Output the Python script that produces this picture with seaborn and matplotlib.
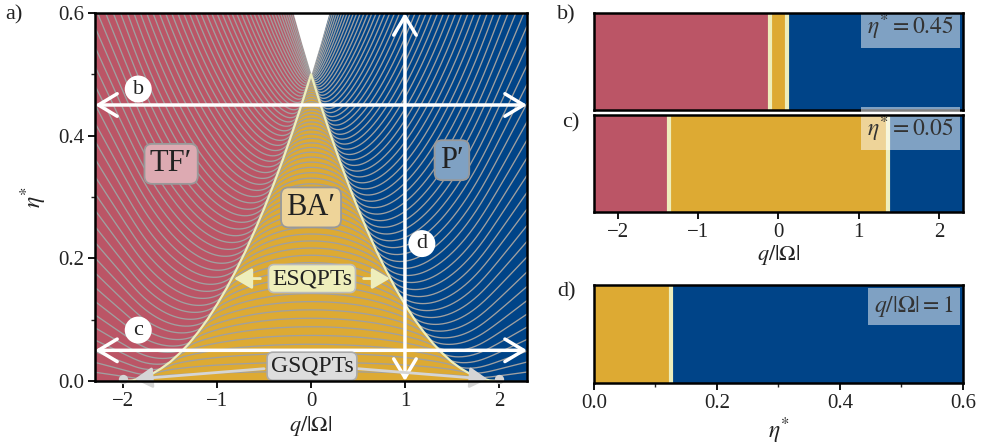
import numpy as np
import pandas as pd
import matplotlib
matplotlib.use("Agg")
import matplotlib.pyplot as plt
from matplotlib.ticker import MultipleLocator
import seaborn as sns

# ---------------- data ----------------
# ESQPT phase boundary (BA' edge), eta* vs |q|/|Omega| (symmetric in q)
esqpt_q = [0.0, 0.1, 0.2, 0.3, 0.4, 0.5, 0.6, 0.7, 0.8, 0.9, 1.0,
           1.1, 1.2, 1.3, 1.4, 1.5, 1.6, 1.7, 1.8, 1.9, 2.0]
esqpt_eta = [0.500, 0.451, 0.405, 0.361, 0.320, 0.281, 0.245, 0.211, 0.180, 0.151, 0.125,
             0.101, 0.080, 0.061, 0.045, 0.031, 0.020, 0.011, 0.005, 0.001, 0.000]
# upper edge of the spectrum above the apex (white wedge)
top_q = [0.0, 0.1, 0.2]
top_eta = [0.500, 0.551, 0.605]

# spectrum model: number of atoms, q range
n_atoms = 130
q_range = (-2.3, 2.3)

# cuts
cut_b_edges = [-2.3, -0.10, 0.10, 2.3]   # eta* = 0.45
cut_b_phases = ["TF", "BA", "P"]
cut_c_edges = [-2.3, -1.37, 1.37, 2.3]   # eta* = 0.05
cut_c_phases = ["TF", "BA", "P"]
cut_d_edges = [0.0, 0.125, 0.6]          # q/|Omega| = 1
cut_d_phases = ["BA", "P"]

# labels
region_labels = ["TF\u2032", "BA\u2032", "P\u2032"]
region_pos = [(-1.49, 0.354), (0.0, 0.283), (1.5, 0.36)]
cut_eta_b, cut_eta_c, cut_q_d = 0.45, 0.05, 1.0

# ---------------- style ----------------
sns.set_style("ticks")
plt.rcParams["font.family"] = ["Liberation Serif", "DejaVu Serif"]
plt.rcParams["mathtext.fontset"] = "stix"

RED, YEL, BLU = "#BB5566", "#DDAA33", "#004488"
PALE = "#EEEEBB"
LINEGRAY = "#A0A0A0"
TXT = "#222222"
colmap = {"TF": RED, "BA": YEL, "P": BLU}
boxcol = {"TF\u2032": "#DDAAB2", "BA\u2032": "#EED499", "P\u2032": "#7FA1C3"}

# ---------------- spectrum (finite-size spin-1 model) ----------------
qs = np.linspace(q_range[0], q_range[1], 461)
k = np.arange(n_atoms // 2 + 1)
n0 = n_atoms - 2 * k
off = -(k[:-1] + 1) * np.sqrt(n0[:-1] * (n0[:-1] - 1.0)) / n_atoms**2
levels = []
for q in qs:
    diag = q * 2 * k / n_atoms - 2 * n0 * k / n_atoms**2
    H = np.diag(diag) + np.diag(off, 1) + np.diag(off, -1)
    e = np.linalg.eigvalsh(H)
    levels.append(e - e[0])
levels = np.array(levels)  # (nq, nlev)
keep = levels.min(axis=0) < 0.62
lv = levels[:, keep]
df = pd.DataFrame({
    "q": np.repeat(qs, lv.shape[1]),
    "eta": lv.ravel(),
    "level": np.tile(np.arange(lv.shape[1]), len(qs)),
})

# ---------------- figure ----------------
fig = plt.figure(figsize=(9.89, 4.48), dpi=100)
axa = fig.add_axes([0.0961, 0.1496, 0.4368, 0.8214])
axb = fig.add_axes([0.6006, 0.7545, 0.3731, 0.2165])
axc = fig.add_axes([0.6006, 0.5268, 0.3731, 0.2165])
axd = fig.add_axes([0.6006, 0.1451, 0.3731, 0.2188])

# --- panel a ---
qf = [-v for v in esqpt_q[::-1]] + esqpt_q[1:]
ef = esqpt_eta[::-1] + esqpt_eta[1:]
tq = [-v for v in top_q[::-1]] + top_q[1:]
te = top_eta[::-1] + top_eta[1:]

axa.axvspan(q_range[0], 0, color=RED, lw=0, zorder=0)
axa.axvspan(0, q_range[1], color=BLU, lw=0, zorder=0)
axa.fill_between(qf, 0, ef, color=YEL, lw=0, zorder=1)

sns.lineplot(data=df, x="q", y="eta", units="level", estimator=None,
             color=LINEGRAY, lw=0.95, ax=axa, zorder=2, legend=False)

axa.fill_between(tq, te, 0.65, color="white", lw=0, zorder=2.5)
axa.plot(qf, ef, color=PALE, lw=1.6, zorder=3)

axa.set_xlim(*q_range)
axa.set_ylim(0, 0.6)
axa.set_xticks([-2, -1, 0, 1, 2])
axa.set_yticks([0.0, 0.2, 0.4, 0.6])
axa.yaxis.set_minor_locator(MultipleLocator(0.1))
axa.set_xlabel(r"$q/|\Omega|$", fontsize=16, labelpad=2, color=TXT)
axa.set_ylabel(r"$\eta^{*}$", fontsize=17, labelpad=6, color=TXT)

arrow_kw = dict(arrowstyle="<->,head_length=0.75,head_width=0.45", color="white",
                lw=2.5, mutation_scale=18, shrinkA=0, shrinkB=0)
axa.annotate("", xy=(q_range[1], cut_eta_b), xytext=(q_range[0], cut_eta_b),
             arrowprops=arrow_kw, zorder=6, annotation_clip=False)
axa.annotate("", xy=(q_range[1], cut_eta_c), xytext=(q_range[0], cut_eta_c),
             arrowprops=arrow_kw, zorder=6, annotation_clip=False)
axa.annotate("", xy=(cut_q_d, 0.6), xytext=(cut_q_d, 0.0),
             arrowprops=arrow_kw, zorder=6, annotation_clip=False)

circ = dict(boxstyle="circle,pad=0.18", fc="white", ec="none")
for lab, (x, y) in zip(["b", "c", "d"], [(-1.84, 0.476), (-1.84, 0.083), (1.18, 0.224)]):
    axa.text(x, y, lab, ha="center", va="center", fontsize=16, color=TXT,
             bbox=circ, zorder=7)

for lab, (x, y) in zip(region_labels, region_pos):
    axa.text(x, y, lab, ha="center", va="center", fontsize=22, color=TXT, zorder=7,
             bbox=dict(boxstyle="round,pad=0.18,rounding_size=0.25", fc=boxcol[lab],
                       ec="#999999", lw=1.3))

# ESQPT label + arrows
axa.text(0.01, 0.167, "ESQPTs", ha="center", va="center", fontsize=17, color=TXT, zorder=7,
         bbox=dict(boxstyle="round,pad=0.15,rounding_size=0.25", fc=PALE, ec="#BBBBBB", lw=1.2))
ek = dict(arrowstyle="-|>,head_length=0.6,head_width=0.35", color=PALE, lw=2,
          mutation_scale=18, shrinkA=0, shrinkB=0)
axa.annotate("", xy=(-0.82, 0.167), xytext=(-0.54, 0.167), arrowprops=ek, zorder=6)
axa.annotate("", xy=(0.84, 0.167), xytext=(0.56, 0.167), arrowprops=ek, zorder=6)

# GSQPT label + arrows + dots
gk = dict(arrowstyle="-|>,head_length=0.6,head_width=0.35", color="#D5D5D5", lw=2,
          mutation_scale=18, shrinkA=0, shrinkB=0)
axa.annotate("", xy=(-1.88, 0.003), xytext=(-0.5, 0.02), arrowprops=gk, zorder=6)
axa.annotate("", xy=(1.88, 0.003), xytext=(0.5, 0.02), arrowprops=gk, zorder=6)
axa.scatter([-2, 2], [0.004, 0.004], s=45, color="#D5D5D5", zorder=6, clip_on=False, lw=0)
axa.text(0.01, 0.024, "GSQPTs", ha="center", va="center", fontsize=17, color=TXT, zorder=7,
         bbox=dict(boxstyle="round,pad=0.15,rounding_size=0.25", fc="#DDDDDD", ec="#AAAAAA", lw=1.2))

# --- panels b, c, d ---
def cut_panel(ax, edges, phases, xlim):
    for i, ph in enumerate(phases):
        ax.axvspan(edges[i], edges[i + 1], color=colmap[ph], lw=0, zorder=0)
    for e in edges[1:-1]:
        ax.axvline(e, color=PALE, lw=3, zorder=1)
    ax.set_xlim(*xlim)
    ax.set_ylim(0, 1)
    ax.set_yticks([])

cut_panel(axb, cut_b_edges, cut_b_phases, q_range)
cut_panel(axc, cut_c_edges, cut_c_phases, q_range)
cut_panel(axd, cut_d_edges, cut_d_phases, (0, 0.6))
axb.set_xticks([])
axc.set_xticks([-2, -1, 0, 1, 2])
axc.set_xlabel(r"$q/|\Omega|$", fontsize=16, labelpad=1, color=TXT)
axd.set_xticks([0.0, 0.2, 0.4, 0.6])
axd.xaxis.set_minor_locator(MultipleLocator(0.1))
axd.set_xlabel(r"$\eta^{*}$", fontsize=17, labelpad=2, color=TXT)

ibox = dict(boxstyle="square,pad=0.25", fc="white", ec="none", alpha=0.5)
axb.text(0.975, 0.86, r"$\eta^{*} = 0.45$", transform=axb.transAxes, ha="right", va="center",
         fontsize=17, color="#333333", bbox=ibox)
axc.text(0.975, 0.86, r"$\eta^{*} = 0.05$", transform=axc.transAxes, ha="right", va="center",
         fontsize=17, color="#333333", bbox=ibox)
axd.text(0.975, 0.78, r"$q/|\Omega| = 1$", transform=axd.transAxes, ha="right", va="center",
         fontsize=17, color="#333333", bbox=ibox)

for ax in [axa, axb, axc, axd]:
    for sp in ax.spines.values():
        sp.set_visible(True)
        sp.set_color("black")
        sp.set_linewidth(1.8)
        sp.set_zorder(10)
    ax.tick_params(which="major", direction="out", length=5, width=1.3, labelsize=15,
                   colors="black", labelcolor=TXT, pad=3)
    ax.tick_params(which="minor", direction="out", length=3, width=1.0)

for lab, (x, y) in zip(["a)", "b)", "c)", "d)"],
                       [(14, 15), (566, 15), (571, 123), (566, 292)]):
    fig.text(x / 989, 1 - y / 448, lab, ha="center", va="center", fontsize=16, color=TXT)

fig.savefig("out.png", dpi=100)
